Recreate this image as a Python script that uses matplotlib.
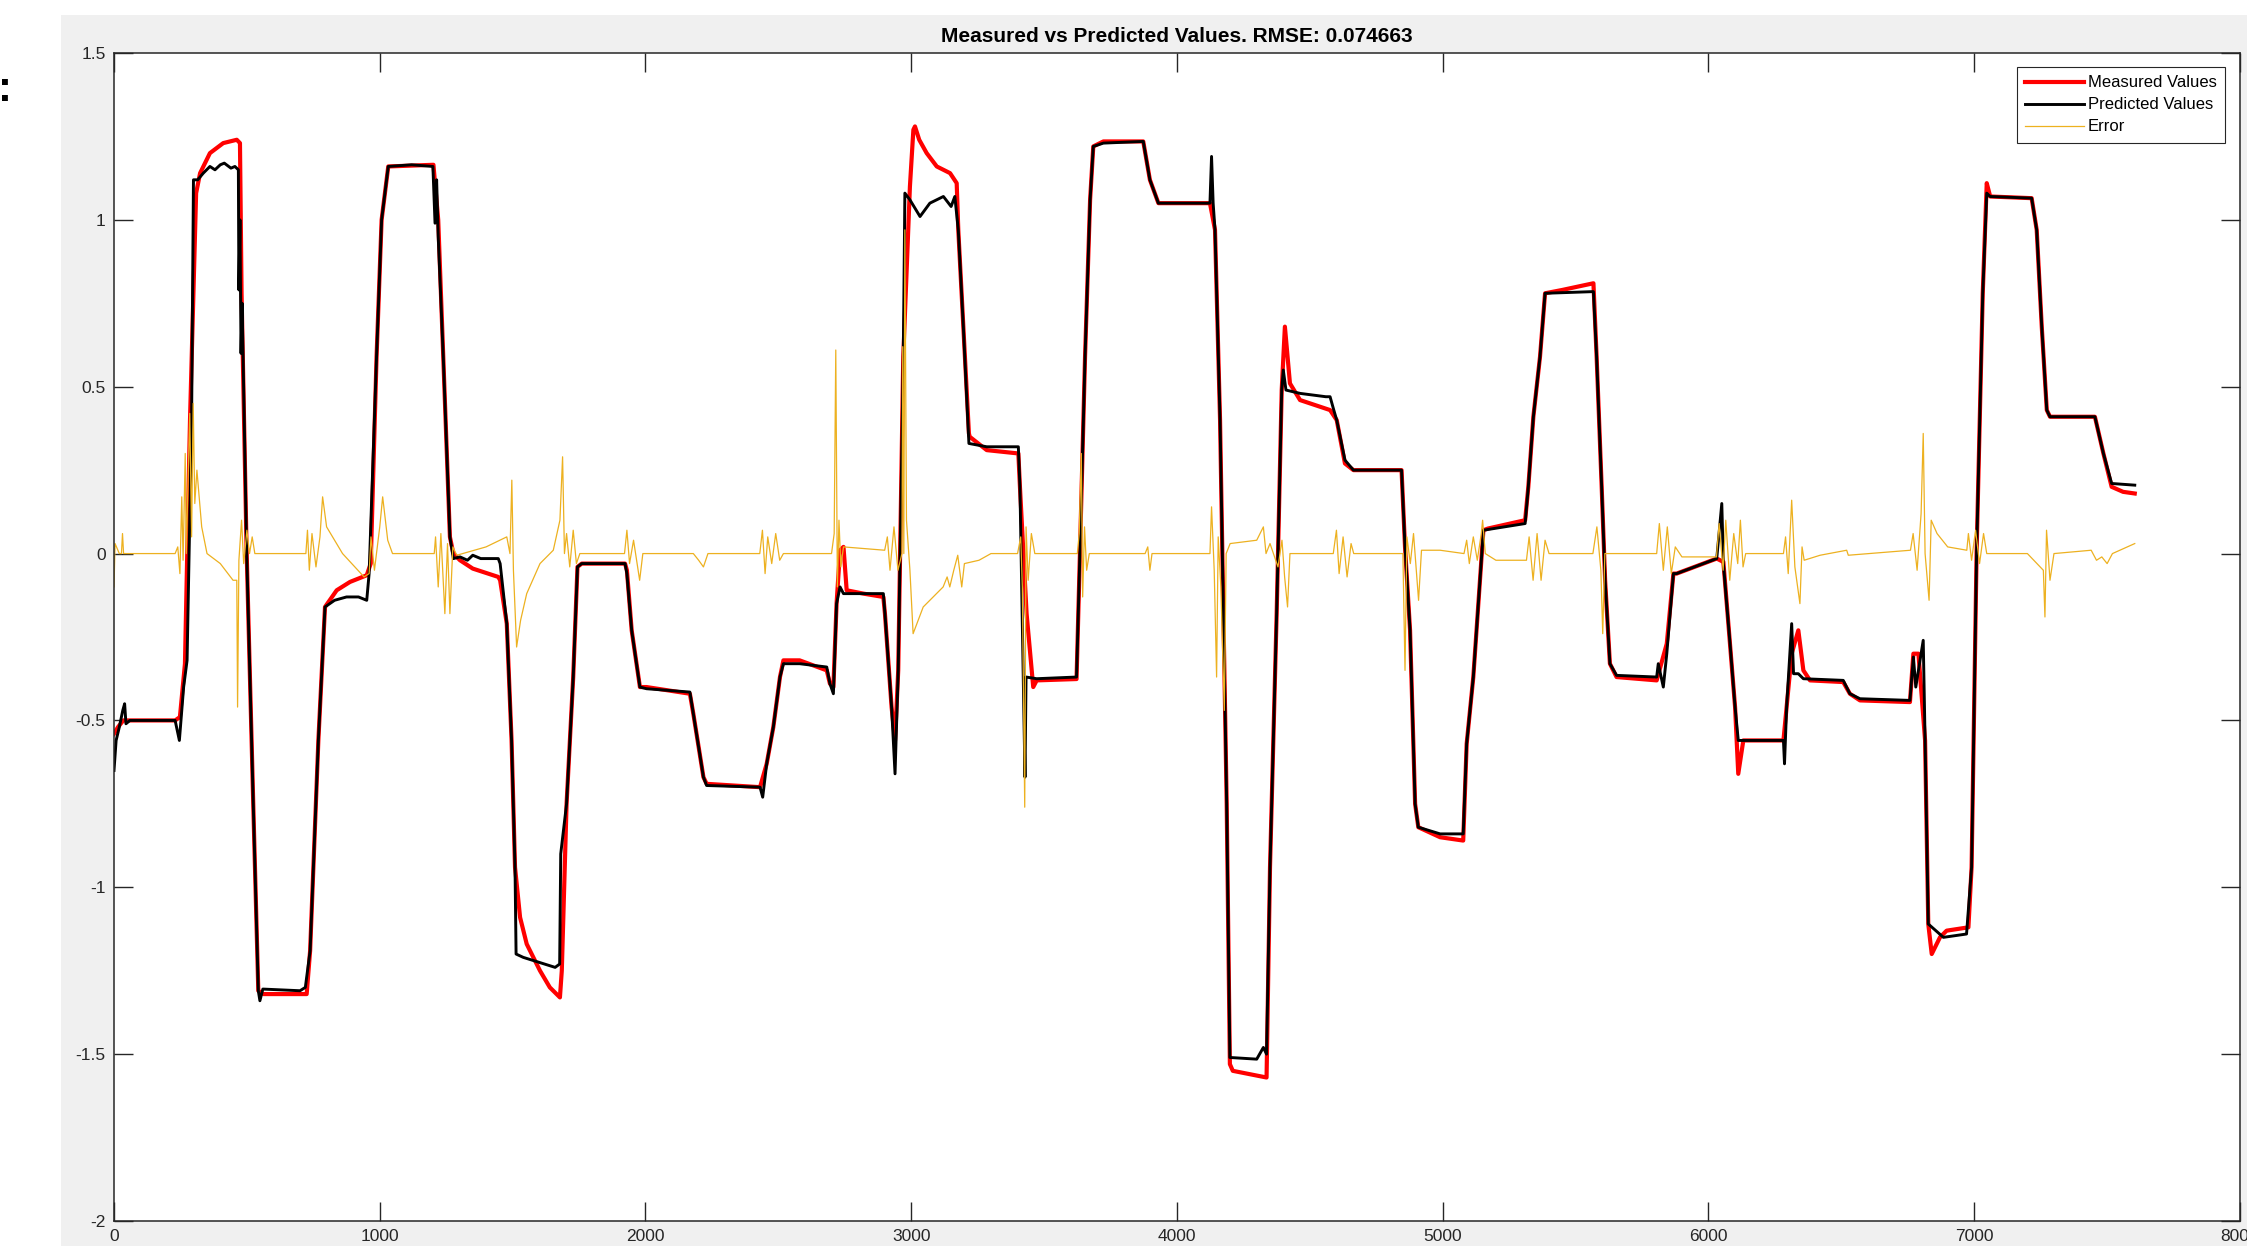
import matplotlib
matplotlib.use("Agg")
import matplotlib.pyplot as plt
from matplotlib.patches import Rectangle

plt.rcParams['font.family'] = ['Liberation Sans', 'DejaVu Sans']

meas_x = [0, 15, 35, 230, 248, 267, 286, 309, 324, 361, 411, 462, 474, 480, 499, 524, 543, 562, 725, 738,
          769, 794, 838, 888, 951, 966, 988, 1007, 1032, 1202, 1220, 1239, 1264, 1277, 1302, 1350, 1446, 1453,
          1478, 1496, 1509, 1528, 1553, 1603, 1640, 1678, 1685, 1703, 1728, 1744, 1760, 1923, 1930, 1948, 1979,
          2004, 2167, 2180, 2218, 2230, 2431, 2456, 2481, 2506, 2519, 2580, 2682, 2694, 2707, 2719, 2732, 2745,
          2757, 2820, 2895, 2901, 2926, 2939, 2951, 2970, 2995, 3008, 3014, 3030, 3058, 3096, 3146, 3171, 3177,
          3196, 3217, 3220, 3284, 3403, 3409, 3434, 3459, 3472, 3622, 3635, 3654, 3673, 3685, 3723, 3873, 3898,
          3930, 4124, 4143, 4162, 4187, 4199, 4210, 4337, 4350, 4375, 4394, 4406, 4425, 4463, 4576, 4601, 4632,
          4664, 4845, 4858, 4877, 4896, 4908, 4990, 5077, 5090, 5115, 5153, 5170, 5310, 5322, 5341, 5366, 5385,
          5450, 5567, 5579, 5598, 5611, 5629, 5654, 5805, 5843, 5868, 5880, 6031, 6056, 6081, 6100, 6112, 6131,
          6282, 6294, 6313, 6338, 6357, 6382, 6507, 6532, 6570, 6758, 6771, 6790, 6815, 6827, 6840, 6871, 6896,
          6978, 6990, 7009, 7032, 7047, 7060, 7216, 7235, 7254, 7273, 7285, 7454, 7486, 7517, 7560, 7604]
meas_y = [-0.54, -0.52, -0.50, -0.50, -0.49, -0.33, 0.40, 1.08, 1.14, 1.20, 1.23, 1.24, 1.23, 0.78, 0.01, -0.75,
          -1.31, -1.32, -1.32, -1.19, -0.56, -0.16, -0.11, -0.085, -0.065, -0.03, 0.59, 1.00, 1.16, 1.165, 1.00,
          0.59, 0.05, 0.0, -0.02, -0.045, -0.07, -0.08, -0.21, -0.56, -0.94, -1.09, -1.17, -1.25, -1.30, -1.33,
          -1.25, -0.75, -0.37, -0.04, -0.03, -0.03, -0.05, -0.23, -0.40, -0.40, -0.42, -0.48, -0.67, -0.69,
          -0.70, -0.63, -0.52, -0.37, -0.32, -0.32, -0.35, -0.39, -0.40, -0.15, 0.01, 0.02, -0.11, -0.12, -0.13,
          -0.18, -0.46, -0.56, -0.35, 0.59, 1.10, 1.27, 1.28, 1.24, 1.20, 1.16, 1.14, 1.11, 0.97, 0.68, 0.36,
          0.35, 0.31, 0.30, 0.20, -0.18, -0.40, -0.38, -0.376, 0.01, 0.59, 1.06, 1.22, 1.235, 1.235, 1.12, 1.05,
          1.05, 0.97, 0.40, -0.75, -1.53, -1.55, -1.57, -0.94, -0.18, 0.49, 0.68, 0.51, 0.46, 0.43, 0.40, 0.27,
          0.25, 0.25, 0.02, -0.23, -0.75, -0.82, -0.85, -0.86, -0.57, -0.37, 0.07, 0.075, 0.10, 0.20, 0.41, 0.59,
          0.78, 0.79, 0.81, 0.59, 0.20, -0.08, -0.33, -0.37, -0.38, -0.27, -0.06, -0.06, -0.015, -0.025, -0.27,
          -0.46, -0.66, -0.56, -0.56, -0.46, -0.30, -0.23, -0.35, -0.38, -0.385, -0.42, -0.44, -0.445, -0.30,
          -0.30, -0.56, -1.11, -1.20, -1.15, -1.13, -1.12, -0.94, 0.01, 0.78, 1.11, 1.07, 1.065, 0.97, 0.68,
          0.43, 0.41, 0.41, 0.30, 0.20, 0.185, 0.18]

# Predicted values
pred_x = [0, 8, 20, 33, 40, 45, 60, 230, 246, 252, 262, 275, 292, 299, 315, 336, 361, 380, 400, 415, 440, 455,
          468, 470, 474, 478, 482, 499, 524, 543, 549, 560, 700, 720, 725, 738, 769, 794, 830, 875, 920, 951,
          960, 988, 1007, 1032, 1120, 1200, 1208, 1214, 1220, 1239, 1264, 1277, 1302, 1330, 1350, 1380, 1446,
          1453, 1478, 1496, 1509, 1513, 1540, 1580, 1620, 1660, 1677, 1681, 1703, 1728, 1744, 1760, 1923, 1930,
          1948, 1979, 2004, 2167, 2180, 2218, 2230, 2431, 2441, 2456, 2481, 2506, 2519, 2580, 2682, 2694, 2707,
          2719, 2732, 2745, 2820, 2895, 2901, 2926, 2939, 2951, 2970, 2976, 2995, 3033, 3070, 3121, 3150, 3164,
          3177, 3196, 3217, 3284, 3403, 3409, 3428, 3432, 3472, 3622, 3635, 3654, 3673, 3685, 3723, 3873, 3898,
          3930, 4124, 4130, 4136, 4143, 4162, 4187, 4199, 4300, 4325, 4337, 4350, 4375, 4394, 4400, 4410, 4463,
          4560, 4576, 4590, 4601, 4632, 4664, 4845, 4858, 4877, 4896, 4908, 4990, 5077, 5090, 5115, 5153, 5310,
          5322, 5341, 5366, 5385, 5567, 5579, 5598, 5611, 5629, 5654, 5805, 5811, 5830, 5843, 5868, 5880, 6031,
          6050, 6056, 6081, 6100, 6112, 6282, 6286, 6294, 6313, 6320, 6338, 6357, 6507, 6532, 6570, 6758, 6771,
          6780, 6808, 6815, 6827, 6884, 6971, 6990, 7009, 7032, 7047, 7060, 7216, 7235, 7254, 7273, 7285, 7454,
          7486, 7517, 7604]
pred_y = [-0.65, -0.56, -0.52, -0.47, -0.45, -0.51, -0.50, -0.50, -0.56, -0.50, -0.40, -0.32, 0.40, 1.12, 1.12,
          1.14, 1.16, 1.15, 1.165, 1.17, 1.155, 1.16, 1.15, 0.79, 1.0, 0.6, 0.75, 0.01, -0.75, -1.31, -1.34,
          -1.305, -1.31, -1.30, -1.27, -1.19, -0.56, -0.16, -0.14, -0.13, -0.13, -0.14, -0.06, 0.59, 1.00, 1.16,
          1.165, 1.16, 0.99, 1.12, 0.95, 0.59, 0.05, -0.015, -0.01, -0.02, -0.005, -0.015, -0.015, -0.03, -0.21,
          -0.56, -0.94, -1.20, -1.21, -1.22, -1.23, -1.24, -1.23, -0.90, -0.75, -0.37, -0.04, -0.03, -0.03,
          -0.06, -0.23, -0.40, -0.405, -0.415, -0.48, -0.67, -0.695, -0.70, -0.73, -0.63, -0.52, -0.37, -0.33,
          -0.33, -0.34, -0.39, -0.42, -0.15, -0.10, -0.12, -0.12, -0.12, -0.18, -0.46, -0.66, -0.35, 0.59, 1.08,
          1.06, 1.01, 1.05, 1.07, 1.04, 1.07, 0.97, 0.68, 0.33, 0.32, 0.32, 0.20, -0.67, -0.37, -0.375, -0.37,
          0.01, 0.59, 1.06, 1.22, 1.23, 1.235, 1.12, 1.05, 1.05, 1.19, 1.05, 0.97, 0.40, -0.75, -1.51, -1.515,
          -1.48, -1.50, -0.94, -0.18, 0.49, 0.55, 0.49, 0.48, 0.47, 0.47, 0.43, 0.40, 0.28, 0.25, 0.25, 0.02,
          -0.23, -0.75, -0.82, -0.84, -0.84, -0.57, -0.37, 0.07, 0.09, 0.20, 0.41, 0.59, 0.78, 0.785, 0.59, 0.20,
          -0.08, -0.33, -0.365, -0.37, -0.33, -0.40, -0.30, -0.06, -0.06, -0.015, 0.15, -0.03, -0.27, -0.46,
          -0.56, -0.56, -0.63, -0.46, -0.21, -0.36, -0.36, -0.375, -0.38, -0.42, -0.435, -0.44, -0.31, -0.40,
          -0.26, -0.56, -1.11, -1.15, -1.14, -0.94, 0.01, 0.78, 1.08, 1.07, 1.065, 0.97, 0.68, 0.43, 0.41, 0.41,
          0.30, 0.21, 0.205]

# Error (predicted - measured)
err_x = [0, 4, 20, 28, 32, 36, 230, 240, 248, 255, 260, 268, 272, 285, 292, 298, 304, 312, 330, 350, 400, 448,
         462, 465, 470, 480, 488, 500, 510, 520, 530, 722, 728, 735, 745, 760, 775, 785, 800, 860, 941, 960, 967,
         980, 1000, 1011, 1030, 1048, 1205, 1210, 1220, 1230, 1245, 1255, 1264, 1275, 1290, 1400, 1478, 1490,
         1497, 1503, 1515, 1530, 1553, 1603, 1653, 1678, 1688, 1695, 1703, 1715, 1728, 1740, 1753, 1921, 1930,
         1940, 1955, 1978, 1990, 2180, 2200, 2218, 2235, 2430, 2440, 2450, 2460, 2475, 2490, 2505, 2519, 2700,
         2710, 2716, 2722, 2728, 2735, 2745, 2900, 2910, 2920, 2935, 2950, 2965, 2968, 2972, 2976, 2982, 2995,
         3007, 3045, 3120, 3135, 3145, 3160, 3175, 3190, 3200, 3255, 3300, 3400, 3412, 3418, 3427, 3432, 3440,
         3452, 3465, 3625, 3632, 3640, 3645, 3652, 3660, 3670, 3880, 3890, 3898, 3906, 4124, 4130, 4140, 4149,
         4155, 4165, 4178, 4185, 4200, 4300, 4325, 4335, 4350, 4380, 4395, 4405, 4416, 4425, 4588, 4600, 4610,
         4625, 4640, 4655, 4665, 4850, 4858, 4865, 4878, 4890, 4909, 4920, 4990, 5080, 5090, 5100, 5115, 5130,
         5145, 5150, 5160, 5200, 5315, 5325, 5340, 5355, 5370, 5385, 5400, 5565, 5580, 5595, 5602, 5610, 5625,
         5805, 5815, 5830, 5845, 5860, 5875, 5900, 6030, 6040, 6055, 6065, 6080, 6095, 6110, 6120, 6130, 6140,
         6282, 6290, 6300, 6313, 6325, 6344, 6352, 6360, 6420, 6520, 6526, 6760, 6770, 6785, 6800, 6808, 6815,
         6830, 6838, 6860, 6900, 6972, 6978, 6990, 7005, 7020, 7035, 7047, 7200, 7260, 7266, 7272, 7285, 7300,
         7440, 7460, 7480, 7500, 7520, 7604]
err_y = [-0.10, 0.03, 0.0, 0.0, 0.06, 0.0, 0.0, 0.02, -0.06, 0.17, -0.02, 0.30, 0.0, 0.42, 0.05, 0.45, 0.15,
         0.25, 0.08, 0.0, -0.03, -0.08, -0.08, -0.46, -0.02, 0.10, -0.03, 0.07, 0.0, 0.05, 0.0, 0.0, 0.07, -0.05,
         0.06, -0.04, 0.05, 0.17, 0.08, 0.0, -0.07, -0.06, 0.05, -0.05, 0.08, 0.17, 0.04, 0.0, 0.0, 0.05, -0.10,
         0.06, -0.18, 0.03, -0.18, 0.02, -0.005, 0.02, 0.05, 0.0, 0.22, -0.05, -0.28, -0.20, -0.12, -0.03, 0.01,
         0.10, 0.29, 0.0, 0.06, -0.04, 0.07, -0.03, 0.0, 0.0, 0.07, -0.03, 0.04, -0.08, 0.0, 0.0, -0.02, -0.04,
         0.0, 0.0, 0.07, -0.06, 0.05, -0.03, 0.06, -0.02, 0.0, 0.0, 0.06, 0.61, -0.10, 0.10, -0.04, 0.02, 0.01,
         0.05, -0.05, 0.08, -0.05, 0.0, 0.62, 0.0, 0.97, 0.10, -0.05, -0.24, -0.16, -0.10, -0.07, -0.10, -0.05,
         -0.005, -0.10, -0.03, -0.02, 0.0, 0.0, 0.05, -0.10, -0.76, 0.08, -0.08, 0.06, 0.0, 0.0, 0.06, 0.30,
         -0.13, 0.08, -0.05, 0.0, 0.0, 0.02, -0.05, 0.0, 0.0, 0.14, -0.05, -0.37, 0.05, -0.10, -0.47, 0.0, 0.03,
         0.04, 0.08, 0.0, 0.03, -0.04, 0.04, -0.07, -0.16, 0.0, 0.0, 0.07, -0.06, 0.05, -0.07, 0.03, 0.0, 0.0,
         -0.35, 0.05, -0.03, 0.06, -0.14, 0.01, 0.01, 0.0, 0.04, -0.03, 0.05, -0.02, 0.06, 0.10, 0.0, -0.02,
         -0.02, 0.05, -0.08, 0.06, -0.08, 0.04, 0.0, 0.0, 0.08, -0.05, -0.24, 0.0, 0.0, 0.0, 0.09, -0.05, 0.08,
         -0.06, 0.02, -0.01, -0.01, 0.09, -0.05, 0.10, -0.08, 0.06, -0.03, 0.10, -0.04, 0.0, 0.0, 0.05, -0.06,
         0.16, -0.04, -0.15, 0.02, -0.02, -0.005, 0.01, -0.005, 0.01, 0.06, -0.05, 0.12, 0.36, 0.0, -0.14, 0.10,
         0.06, 0.02, 0.01, 0.06, -0.02, 0.07, -0.03, 0.06, 0.0, 0.0, -0.05, -0.19, 0.07, -0.08, 0.0, 0.01,
         -0.02, -0.01, -0.03, 0.0, 0.03]

x_ticks = [0, 1000, 2000, 3000, 4000, 5000, 6000, 7000, 8000]
y_ticks = [-2, -1.5, -1, -0.5, 0, 0.5, 1, 1.5]
y_tick_labels = ['-2', '-1.5', '-1', '-0.5', '0', '0.5', '1', '1.5']
title = 'Measured vs Predicted Values. RMSE: 0.074663'

W, H = 2247, 1246
fig = plt.figure(figsize=(W / 100, H / 100), dpi=100, facecolor='white')
# grey MATLAB figure background (screenshot is cropped, white strip top/left)
fig.patches.append(Rectangle((61 / W, 0), 1 - 61 / W, 1 - 15 / H, transform=fig.transFigure,
                             facecolor='#F0F0F0', edgecolor='none', zorder=-10))
fig.text(-0.001, 1 - 90 / H, ':', fontsize=30, fontweight='bold', va='center', ha='left')

ax = fig.add_axes([114 / W, 25 / H, 2126 / W, 1168 / H])
ax.set_facecolor('white')

ax.plot(meas_x, meas_y, color='#FF0000', linewidth=3.0, label='Measured Values')
ax.plot(pred_x, pred_y, color='black', linewidth=2.1, label='Predicted Values')
ax.plot(err_x, err_y, color='#EDB120', linewidth=0.9, label='Error')

ax.set_xlim(0, 8000)
ax.set_ylim(-2, 1.5)
ax.set_xticks(x_ticks)
ax.set_yticks(y_ticks)
ax.set_yticklabels(y_tick_labels)

for s in ax.spines.values():
    s.set_color('#262626')
    s.set_linewidth(1.1)
ax.tick_params(direction='in', length=14, width=1, top=True, right=True,
               labelsize=12.5, labelcolor='#262626', color='#262626', pad=6)

ax.set_title(title, fontsize=15, fontweight='bold', pad=8)

leg = ax.legend(loc='upper right', bbox_to_anchor=(0.993, 0.988), borderaxespad=0, fontsize=12,
                handlelength=3.5, handletextpad=0.25, labelspacing=0.42, borderpad=0.5,
                fancybox=False, edgecolor='#262626', framealpha=1)
leg.get_frame().set_linewidth(0.8)

fig.savefig('out.png', dpi=100, facecolor=fig.get_facecolor())
